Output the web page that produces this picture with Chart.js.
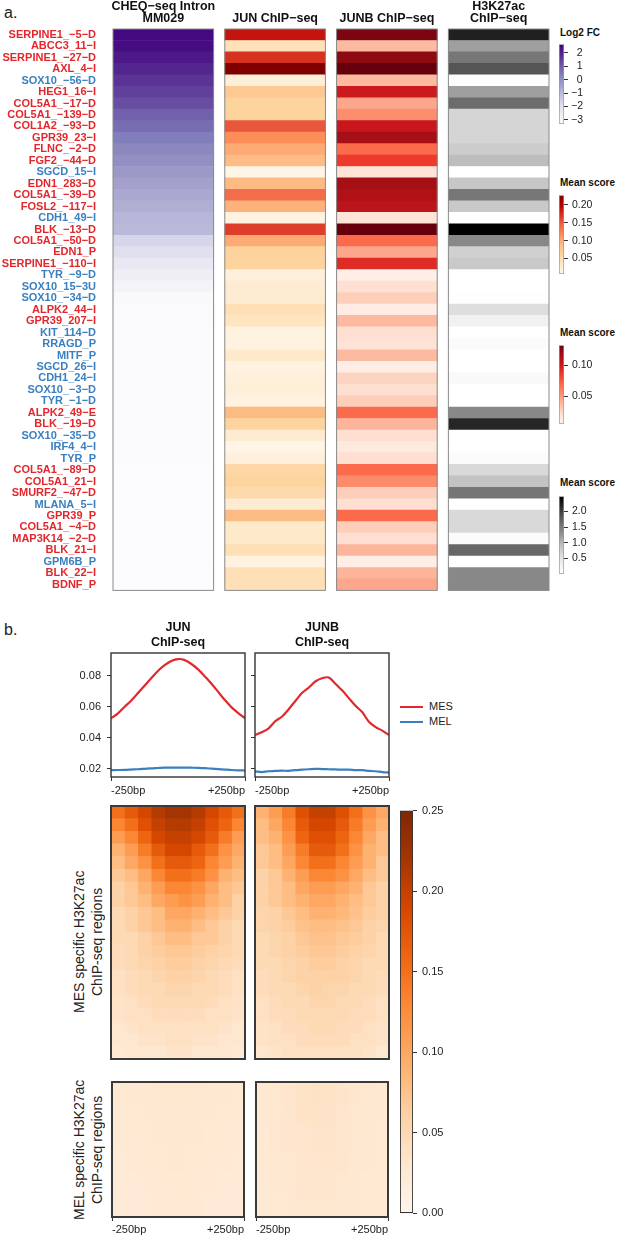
<!DOCTYPE html>
<html>
<head>
<meta charset="utf-8">
<script src="https://cdn.jsdelivr.net/npm/chart.js@4.4.0/dist/chart.umd.min.js"></script>
<style>
  body { margin: 0; background: #fff; width: 617px; height: 1237px; position: relative; overflow: hidden;
         font-family: "Liberation Sans", Arial, Helvetica, sans-serif; color: #222; }
  canvas { position: absolute; }
  .lbl { position: absolute; white-space: nowrap; }
  .cbt { position: absolute; font-size: 10px; font-weight: bold; line-height: 12px; color: #111; }
  .vt { position: absolute; writing-mode: vertical-rl; transform: rotate(180deg); text-align: center;
        font-size: 14px; line-height: 17.5px; width: 35px; white-space: nowrap; color: #222; }
  #legend div { position: absolute; left: 0; font-size: 11px; line-height: 14px; white-space: nowrap; }
  #legend span { display: inline-block; width: 23px; height: 2px; vertical-align: middle; margin-right: 6px; }
</style>
</head>
<body>
<div class="lbl" style="left:4px;top:4px;font-size:16px;line-height:18px">a.</div>
<div class="lbl" style="left:4px;top:621px;font-size:16px;line-height:18px">b.</div>

<canvas id="heatA" width="553" height="606" style="left:0;top:0"></canvas>

<div class="cbt" style="left:560px;top:27px">Log2 FC</div>
<canvas id="cbFC" width="58" height="98" style="left:559px;top:35px"></canvas>
<div class="cbt" style="left:560px;top:177px">Mean score</div>
<canvas id="cbJun" width="58" height="99" style="left:559px;top:185px"></canvas>
<div class="cbt" style="left:560px;top:327px">Mean score</div>
<canvas id="cbJunb" width="58" height="99" style="left:559px;top:335px"></canvas>
<div class="cbt" style="left:560px;top:477px">Mean score</div>
<canvas id="cbH3" width="58" height="98" style="left:559px;top:486px"></canvas>

<canvas id="profJun" width="250" height="192" style="left:0;top:612px"></canvas>
<canvas id="profJunb" width="145" height="192" style="left:250px;top:612px"></canvas>
<div id="legend" style="position:absolute;left:400px;top:699px"></div>

<div class="vt" style="left:71px;top:852px;height:180px">MES specific H3K27ac<br>ChIP-seq regions</div>
<div class="vt" style="left:71px;top:1060px;height:180px">MEL specific H3K27ac<br>ChIP-seq regions</div>
<canvas id="hmJunMes" width="136" height="275" style="left:110px;top:805px"></canvas>
<canvas id="hmJunbMes" width="136" height="275" style="left:254px;top:805px"></canvas>
<canvas id="hmJunMel" width="136" height="156" style="left:110px;top:1081px"></canvas>
<canvas id="hmJunbMel" width="136" height="156" style="left:254px;top:1081px"></canvas>
<canvas id="cbProf" width="60" height="426" style="left:400px;top:799px"></canvas>

<script>
Chart.defaults.font.family = '"Liberation Sans", Arial, Helvetica, sans-serif';
Chart.defaults.color = '#222';
Chart.defaults.animation = false;
Chart.defaults.responsive = false;
Chart.defaults.plugins.legend.display = false;
Chart.defaults.plugins.tooltip.enabled = false;

// ---------- a. region heatmap ----------
const rowLabels = [
  'SERPINE1_−5−D', 'ABCC3_11−I', 'SERPINE1_−27−D', 'AXL_4−I', 'SOX10_−56−D', 'HEG1_16−I',
  'COL5A1_−17−D', 'COL5A1_−139−D', 'COL1A2_−93−D', 'GPR39_23−I', 'FLNC_−2−D', 'FGF2_−44−D',
  'SGCD_15−I', 'EDN1_283−D', 'COL5A1_−39−D', 'FOSL2_−117−I', 'CDH1_49−I', 'BLK_−13−D',
  'COL5A1_−50−D', 'EDN1_P', 'SERPINE1_−110−I', 'TYR_−9−D', 'SOX10_15−3U', 'SOX10_−34−D',
  'ALPK2_44−I', 'GPR39_207−I', 'KIT_114−D', 'RRAGD_P', 'MITF_P', 'SGCD_26−I', 'CDH1_24−I',
  'SOX10_−3−D', 'TYR_−1−D', 'ALPK2_49−E', 'BLK_−19−D', 'SOX10_−35−D', 'IRF4_4−I', 'TYR_P',
  'COL5A1_−89−D', 'COL5A1_21−I', 'SMURF2_−47−D', 'MLANA_5−I', 'GPR39_P', 'COL5A1_−4−D',
  'MAP3K14_−2−D', 'BLK_21−I', 'GPM6B_P', 'BLK_22−I', 'BDNF_P'
];
const rowGroup = [
  'MES','MES','MES','MES','MEL','MES','MES','MES','MES','MES','MES','MES','MEL','MES','MES','MES','MEL',
  'MES','MES','MES','MES','MEL','MEL','MEL','MES','MES','MEL','MEL','MEL','MEL','MEL','MEL','MEL','MES',
  'MES','MEL','MEL','MEL','MES','MES','MES','MEL','MES','MES','MES','MES','MEL','MES','MES'
];
const cheqLog2FC = [
  2.47, 2.41, 2.17, 1.94, 1.70, 1.46, 1.22, 0.92, 0.69, 0.39, 0.15, -0.03, -0.27, -0.44, -0.62, -0.74,
  -0.92, -0.98, -1.69, -1.99, -2.35, -2.59, -2.88, -3.12, -3.20, -3.21, -3.22, -3.22, -3.23, -3.23,
  -3.24, -3.24, -3.25, -3.25, -3.25, -3.26, -3.26, -3.26, -3.27, -3.27, -3.27, -3.28, -3.28, -3.28,
  -3.28, -3.29, -3.29, -3.29, -3.29
];
const junScore = [
  0.187, 0.045, 0.171, 0.226, 0.023, 0.076, 0.063, 0.063, 0.152, 0.117,
  0.100, 0.089, 0.012, 0.090, 0.139, 0.095, 0.017, 0.165, 0.100, 0.065,
  0.063, 0.021, 0.028, 0.028, 0.047, 0.041, 0.017, 0.017, 0.034, 0.017,
  0.021, 0.023, 0.017, 0.090, 0.063, 0.028, 0.012, 0.021, 0.058, 0.063,
  0.054, 0.028, 0.090, 0.034, 0.034, 0.047, 0.017, 0.047, 0.047
];
const junbScore = [
  0.127, 0.038, 0.122, 0.132, 0.038, 0.100, 0.045, 0.055, 0.102, 0.116,
  0.069, 0.085, 0.019, 0.116, 0.112, 0.107, 0.019, 0.132, 0.069, 0.045,
  0.092, 0.011, 0.022, 0.029, 0.012, 0.038, 0.022, 0.020, 0.038, 0.011,
  0.027, 0.022, 0.029, 0.069, 0.040, 0.022, 0.015, 0.022, 0.069, 0.056,
  0.029, 0.022, 0.069, 0.029, 0.022, 0.040, 0.011, 0.040, 0.045
];
const h3k27acScore = [
  2.22, 1.17, 1.52, 1.84, 0.05, 1.17, 1.62, 0.67, 0.67, 0.67,
  0.77, 0.93, 0.00, 0.82, 1.52, 0.80, 0.00, 2.49, 1.37, 0.72,
  0.80, 0.00, 0.00, 0.03, 0.55, 0.30, 0.00, 0.08, 0.00, 0.00,
  0.12, 0.00, 0.00, 1.37, 2.17, 0.00, 0.00, 0.08, 0.62, 0.87,
  1.54, 0.00, 0.62, 0.62, 0.08, 1.67, 0.00, 1.37, 1.37
];
const columnTitles = [['CHEQ−seq Intron', 'MM029'], 'JUN ChIP−seq', 'JUNB ChIP−seq', ['H3K27ac', 'ChIP−seq']];

// colorbar ticks
const fcTicks = [2, 1, 0, -1, -2, -3];
const junTicks = [0.20, 0.15, 0.10, 0.05];
const junbTicks = [0.10, 0.05];
const h3Ticks = [2.0, 1.5, 1.0, 0.5];

// ---------- b. profiles ----------
const profileBp = [-250, -225, -200, -175, -150, -125, -100, -75, -50, -25, 0, 25, 50, 75, 100, 125, 150, 175, 200, 225, 250];
const junMes  = [0.0525, 0.0555, 0.0598, 0.0638, 0.0686, 0.0735, 0.0783, 0.0830, 0.0868, 0.0895, 0.0907, 0.0900, 0.0875, 0.0840, 0.0795, 0.0748, 0.0695, 0.0643, 0.0595, 0.0558, 0.0525];
const junMel  = [0.0190, 0.0191, 0.0192, 0.0194, 0.0196, 0.0199, 0.0202, 0.0204, 0.0206, 0.0207, 0.0207, 0.0207, 0.0206, 0.0205, 0.0203, 0.0200, 0.0197, 0.0194, 0.0191, 0.0189, 0.0188];
const junbMes = [0.0417, 0.0434, 0.0458, 0.0505, 0.0535, 0.0582, 0.0635, 0.0688, 0.0722, 0.0762, 0.0783, 0.0788, 0.0748, 0.0705, 0.0655, 0.0605, 0.0565, 0.0502, 0.0468, 0.0445, 0.0417];
const junbMel = [0.0182, 0.0178, 0.0183, 0.0185, 0.0187, 0.0186, 0.0190, 0.0193, 0.0196, 0.0199, 0.0197, 0.0196, 0.0195, 0.0193, 0.0194, 0.0190, 0.0190, 0.0186, 0.0183, 0.0178, 0.0174];
const profileTicks = [0.02, 0.04, 0.06, 0.08];
const seriesNames = ['MES', 'MEL'];

// heatmap bins (bp) and mean scores per block of regions
const binEdges = [-250, -200, -150, -100, -50, 0, 50, 100, 150, 200, 250];
const junMesGrid = [
  [0.15, 0.17, 0.19, 0.21, 0.22, 0.22, 0.21, 0.19, 0.17, 0.15],
  [0.13, 0.15, 0.18, 0.20, 0.21, 0.21, 0.20, 0.18, 0.16, 0.13],
  [0.11, 0.13, 0.16, 0.19, 0.20, 0.20, 0.19, 0.17, 0.14, 0.11],
  [0.09, 0.11, 0.14, 0.17, 0.19, 0.19, 0.17, 0.15, 0.12, 0.10],
  [0.08, 0.10, 0.12, 0.15, 0.17, 0.17, 0.16, 0.13, 0.11, 0.09],
  [0.07, 0.08, 0.10, 0.13, 0.15, 0.15, 0.14, 0.12, 0.09, 0.08],
  [0.06, 0.07, 0.09, 0.11, 0.13, 0.13, 0.12, 0.10, 0.08, 0.07],
  [0.06, 0.07, 0.08, 0.10, 0.11, 0.12, 0.11, 0.09, 0.08, 0.06],
  [0.05, 0.06, 0.07, 0.08, 0.10, 0.10, 0.09, 0.08, 0.07, 0.06],
  [0.05, 0.06, 0.07, 0.08, 0.09, 0.09, 0.08, 0.07, 0.06, 0.05],
  [0.05, 0.05, 0.06, 0.07, 0.08, 0.08, 0.07, 0.07, 0.06, 0.05],
  [0.045, 0.05, 0.06, 0.065, 0.07, 0.07, 0.065, 0.06, 0.055, 0.05],
  [0.045, 0.05, 0.055, 0.06, 0.065, 0.065, 0.06, 0.055, 0.05, 0.045],
  [0.04, 0.045, 0.05, 0.055, 0.06, 0.06, 0.055, 0.05, 0.045, 0.04],
  [0.04, 0.045, 0.05, 0.05, 0.055, 0.055, 0.05, 0.05, 0.045, 0.04],
  [0.035, 0.04, 0.045, 0.05, 0.05, 0.05, 0.05, 0.045, 0.04, 0.035],
  [0.035, 0.04, 0.04, 0.045, 0.045, 0.045, 0.045, 0.04, 0.04, 0.035],
  [0.03, 0.035, 0.04, 0.04, 0.04, 0.04, 0.04, 0.04, 0.035, 0.03],
  [0.03, 0.03, 0.035, 0.035, 0.04, 0.04, 0.035, 0.035, 0.03, 0.03],
  [0.025, 0.03, 0.03, 0.03, 0.035, 0.035, 0.03, 0.03, 0.03, 0.025]
];
const junbMesGrid = [
  [0.09, 0.11, 0.14, 0.18, 0.20, 0.20, 0.18, 0.15, 0.12, 0.10],
  [0.08, 0.10, 0.13, 0.17, 0.19, 0.19, 0.17, 0.14, 0.11, 0.09],
  [0.08, 0.09, 0.12, 0.16, 0.18, 0.18, 0.16, 0.13, 0.10, 0.08],
  [0.07, 0.08, 0.11, 0.14, 0.17, 0.17, 0.15, 0.12, 0.09, 0.08],
  [0.07, 0.08, 0.10, 0.13, 0.15, 0.15, 0.13, 0.11, 0.09, 0.07],
  [0.06, 0.07, 0.09, 0.11, 0.13, 0.13, 0.12, 0.10, 0.08, 0.07],
  [0.06, 0.07, 0.08, 0.10, 0.11, 0.11, 0.10, 0.09, 0.07, 0.06],
  [0.06, 0.07, 0.08, 0.09, 0.10, 0.10, 0.09, 0.08, 0.07, 0.06],
  [0.055, 0.06, 0.07, 0.08, 0.09, 0.09, 0.085, 0.075, 0.065, 0.06],
  [0.055, 0.06, 0.065, 0.075, 0.08, 0.08, 0.075, 0.07, 0.06, 0.055],
  [0.05, 0.055, 0.06, 0.07, 0.075, 0.075, 0.07, 0.065, 0.06, 0.05],
  [0.05, 0.055, 0.06, 0.065, 0.07, 0.07, 0.065, 0.06, 0.055, 0.05],
  [0.05, 0.05, 0.055, 0.06, 0.065, 0.065, 0.06, 0.055, 0.05, 0.05],
  [0.045, 0.05, 0.055, 0.06, 0.06, 0.06, 0.06, 0.055, 0.05, 0.045],
  [0.045, 0.05, 0.05, 0.055, 0.06, 0.055, 0.055, 0.05, 0.05, 0.045],
  [0.04, 0.045, 0.05, 0.05, 0.055, 0.055, 0.05, 0.05, 0.045, 0.04],
  [0.04, 0.045, 0.045, 0.05, 0.05, 0.05, 0.05, 0.045, 0.045, 0.04],
  [0.035, 0.04, 0.045, 0.045, 0.05, 0.05, 0.045, 0.045, 0.04, 0.035],
  [0.035, 0.04, 0.04, 0.045, 0.045, 0.045, 0.045, 0.04, 0.04, 0.035],
  [0.03, 0.035, 0.04, 0.04, 0.04, 0.04, 0.04, 0.04, 0.035, 0.03]
];
const junMelGrid = [
  [0.026, 0.027, 0.028, 0.029, 0.030, 0.030, 0.029, 0.028, 0.027, 0.026],
  [0.025, 0.026, 0.027, 0.028, 0.029, 0.029, 0.028, 0.027, 0.026, 0.025],
  [0.024, 0.025, 0.026, 0.027, 0.028, 0.028, 0.027, 0.026, 0.025, 0.024],
  [0.023, 0.024, 0.025, 0.026, 0.027, 0.027, 0.026, 0.025, 0.024, 0.023],
  [0.023, 0.023, 0.024, 0.025, 0.026, 0.026, 0.025, 0.024, 0.023, 0.023],
  [0.022, 0.023, 0.023, 0.024, 0.025, 0.025, 0.024, 0.023, 0.023, 0.022]
];
const junbMelGrid = [
  [0.028, 0.030, 0.033, 0.036, 0.037, 0.036, 0.034, 0.031, 0.029, 0.027],
  [0.027, 0.030, 0.032, 0.035, 0.036, 0.035, 0.033, 0.030, 0.028, 0.027],
  [0.026, 0.029, 0.031, 0.033, 0.034, 0.034, 0.032, 0.030, 0.028, 0.026],
  [0.026, 0.028, 0.030, 0.032, 0.033, 0.033, 0.031, 0.029, 0.027, 0.026],
  [0.025, 0.027, 0.029, 0.031, 0.032, 0.032, 0.030, 0.028, 0.026, 0.025],
  [0.024, 0.026, 0.028, 0.029, 0.030, 0.030, 0.029, 0.027, 0.026, 0.024]
];
const profTicks = [0, 0.05, 0.10, 0.15, 0.20, 0.25];

// ---------- colours ----------
const RED_LBL = '#e2272c', BLUE_LBL = '#3a80c0';
const MES_COL = '#e2282c', MEL_COL = '#3b7fbf';
const PURPLES = ['#fcfbfd', '#efedf5', '#dadaeb', '#bcbddc', '#9e9ac8', '#807dba', '#6a51a3', '#54278f', '#3f007d'];
const ORRD = ['#fff7ec', '#fee8c8', '#fdd49e', '#fdbb84', '#fc8d59', '#ef6548', '#d7301f', '#b30000', '#7f0000'];
const REDS = ['#fff5f0', '#fee0d2', '#fcbba1', '#fc9272', '#fb6a4a', '#ef3b2c', '#cb181d', '#a50f15', '#67000d'];
const GREYS = ['#ffffff', '#f0f0f0', '#d9d9d9', '#bdbdbd', '#969696', '#737373', '#525252', '#252525', '#000000'];
const ORANGES = ['#fff5eb', '#fee6ce', '#fdd0a2', '#fdae6b', '#fd8d3c', '#f16913', '#d94801', '#a63603', '#7f2704'];

function hexRgb(h) { return [1, 3, 5].map(i => parseInt(h.slice(i, i + 2), 16)); }
function colorAt(stops, t) {
  t = Math.max(0, Math.min(1, t));
  const p = t * (stops.length - 1);
  const i = Math.min(Math.floor(p), stops.length - 2);
  const f = p - i;
  const a = hexRgb(stops[i]), b = hexRgb(stops[i + 1]);
  return 'rgb(' + a.map((c, k) => Math.round(c + (b[k] - c) * f)).join(',') + ')';
}
function scaled(stops, min, max) { return v => colorAt(stops, (v - min) / (max - min)); }

const frame = (color, width) => ({
  id: 'frame',
  afterDatasetsDraw(chart) {
    const { ctx, chartArea: a } = chart;
    ctx.save();
    ctx.strokeStyle = color;
    ctx.lineWidth = width;
    ctx.strokeRect(a.left, a.top, a.right - a.left, a.bottom - a.top);
    ctx.restore();
  }
});

// ---------- a. heatmap ----------
const COLW = 0.9;
const columns = [
  { values: cheqLog2FC, color: scaled(PURPLES, -3.29, 2.65) },
  { values: junScore, color: scaled(ORRD, 0.008, 0.226) },
  { values: junbScore, color: scaled(REDS, 0.006, 0.132) },
  { values: h3k27acScore, color: scaled(GREYS, 0, 2.49) }
];

const columnOutline = {
  id: 'columnOutline',
  afterDatasetsDraw(chart) {
    const { ctx, chartArea: a, scales: { x } } = chart;
    ctx.save();
    ctx.strokeStyle = '#8a8a8a';
    ctx.lineWidth = 1;
    columns.forEach((c, i) => {
      const l = x.getPixelForValue(i), r = x.getPixelForValue(i + COLW);
      ctx.strokeRect(l, a.top, r - l, a.bottom - a.top);
    });
    ctx.restore();
  }
};

new Chart(document.getElementById('heatA'), {
  type: 'bar',
  data: {
    labels: rowLabels,
    datasets: columns.map((c, i) => ({
      data: c.values.map(() => [i, i + COLW]),
      backgroundColor: c.values.map(c.color),
      borderWidth: 0,
      grouped: false,
      categoryPercentage: 1,
      barPercentage: 1
    }))
  },
  options: {
    indexAxis: 'y',
    layout: { padding: { left: 0, right: 4, top: 0, bottom: 6 } },
    scales: {
      x: {
        type: 'linear', position: 'top', min: 0, max: 3.9,
        grid: { display: false }, border: { display: false },
        afterBuildTicks: s => { s.ticks = columns.map((c, i) => ({ value: i + COLW / 2 })); },
        afterFit: s => { s.height = 29; },
        ticks: {
          callback: (v, i) => columnTitles[i],
          font: { size: 12.5, weight: 'bold', lineHeight: 0.95 },
          color: '#111', padding: -3.5, maxRotation: 0, autoSkip: false
        }
      },
      y: {
        grid: { display: false }, border: { display: false },
        afterFit: s => { s.width = 113; },
        ticks: {
          autoSkip: false, padding: 9,
          font: { size: 11, weight: 'bold' },
          color: c => rowGroup[c.index] === 'MES' ? RED_LBL : BLUE_LBL
        }
      }
    }
  },
  plugins: [columnOutline]
});

// ---------- colour bars ----------
function makeColorbar(id, opt) {
  const canvas = document.getElementById(id);
  return new Chart(canvas, {
    type: 'bar',
    data: {
      labels: [''],
      datasets: [{
        data: [[opt.min, opt.max]],
        backgroundColor: c => {
          const a = c.chart.chartArea;
          if (!a) return 'transparent';
          const g = c.chart.ctx.createLinearGradient(0, a.bottom, 0, a.top);
          opt.stops.forEach((s, k) => g.addColorStop(k / (opt.stops.length - 1), s));
          return g;
        },
        borderColor: opt.border, borderWidth: opt.borderWidth, borderSkipped: false,
        categoryPercentage: 1, barPercentage: 1
      }]
    },
    options: {
      layout: { padding: { top: 8, bottom: 8, left: 0, right: 0 } },
      scales: {
        x: { display: false },
        y: {
          position: 'right', min: opt.min, max: opt.max,
          afterBuildTicks: s => { s.ticks = opt.ticks.map(v => ({ value: v })); },
          afterFit: s => { s.width = canvas.width - opt.barW; },
          grid: { drawOnChartArea: false, tickLength: 4, color: '#333' },
          border: { display: false },
          ticks: { callback: opt.fmt, font: { size: opt.fontSize }, color: '#222', padding: opt.pad }
        }
      }
    }
  });
}
const fmtFC = v => (v < 0 ? '−' + Math.abs(v) : '  ' + v);
makeColorbar('cbFC', { stops: PURPLES, min: -3.29, max: 2.65, ticks: fcTicks, fmt: fmtFC, barW: 5, border: '#999', borderWidth: 1, fontSize: 10.5, pad: 3 });
makeColorbar('cbJun', { stops: ORRD, min: 0.008, max: 0.226, ticks: junTicks, fmt: v => v.toFixed(2), barW: 5, border: '#999', borderWidth: 1, fontSize: 10.5, pad: 4 });
makeColorbar('cbJunb', { stops: REDS, min: 0.006, max: 0.132, ticks: junbTicks, fmt: v => v.toFixed(2), barW: 5, border: '#999', borderWidth: 1, fontSize: 10.5, pad: 4 });
makeColorbar('cbH3', { stops: GREYS, min: 0, max: 2.49, ticks: h3Ticks, fmt: v => v.toFixed(1), barW: 5, border: '#999', borderWidth: 1, fontSize: 10.5, pad: 4 });
makeColorbar('cbProf', { stops: ORANGES, min: 0, max: 0.25, ticks: profTicks, fmt: v => v.toFixed(2), barW: 13, border: '#333', borderWidth: 1.2, fontSize: 11, pad: 5 });

// ---------- b. profile plots ----------
const bpLabel = v => (v < 0 ? '-250bp' : '+250bp');
function makeProfile(id, title, mes, mel, showY, yWidth, padRight) {
  return new Chart(document.getElementById(id), {
    type: 'line',
    data: {
      datasets: [mes, mel].map((vals, k) => ({
        label: seriesNames[k],
        data: profileBp.map((x, i) => ({ x, y: vals[i] })),
        borderColor: k === 0 ? MES_COL : MEL_COL,
        borderWidth: 2.2, pointRadius: 0, tension: 0.3
      }))
    },
    options: {
      layout: { padding: { left: 0, right: padRight, top: 0, bottom: 0 } },
      plugins: {
        title: {
          display: true, text: title, fullSize: false, color: '#111',
          font: { size: 12.5, weight: 'bold', lineHeight: 1.2 },
          padding: { top: 8.5, bottom: 2.5 }
        }
      },
      scales: {
        x: {
          type: 'linear', min: -250, max: 250,
          afterBuildTicks: s => { s.ticks = [{ value: -250 }, { value: 250 }]; },
          afterFit: s => { s.height = 27; },
          grid: { drawOnChartArea: false, tickLength: 4, color: '#333' },
          border: { display: false },
          ticks: { callback: bpLabel, align: 'inner', maxRotation: 0, font: { size: 11 }, color: '#222', padding: 3 }
        },
        y: {
          min: 0.0146, max: 0.0946,
          afterBuildTicks: s => { s.ticks = profileTicks.map(v => ({ value: v })); },
          afterFit: s => { s.width = yWidth; },
          grid: { drawOnChartArea: false, tickLength: 4, color: '#333' },
          border: { display: false },
          ticks: { display: showY, callback: v => v.toFixed(2), font: { size: 11 }, color: '#222', padding: 6 }
        }
      }
    },
    plugins: [frame('#333', 1.4)]
  });
}
makeProfile('profJun', ['JUN', 'ChIP-seq'], junMes, junMel, true, 111, 5);
makeProfile('profJunb', ['JUNB', 'ChIP-seq'], junbMes, junbMel, false, 5, 6);

document.getElementById('legend').innerHTML = seriesNames.map((n, k) =>
  '<div style="top:' + (k * 15) + 'px"><span style="background:' + (k === 0 ? MES_COL : MEL_COL) + '"></span>' + n + '</div>'
).join('');

// ---------- b. region heatmaps ----------
function makeHeatmap(id, grid, showX) {
  const datasets = binEdges.slice(0, -1).map((x0, j) => ({
    data: grid.map(() => [x0, binEdges[j + 1]]),
    backgroundColor: grid.map(r => colorAt(ORANGES, r[j] / 0.25)),
    borderWidth: 0, grouped: false, categoryPercentage: 1, barPercentage: 1
  }));
  return new Chart(document.getElementById(id), {
    type: 'bar',
    data: { labels: grid.map((r, i) => String(i + 1)), datasets },
    options: {
      indexAxis: 'y',
      layout: { padding: { top: 1, left: 1, right: 1, bottom: showX ? 0 : 1 } },
      scales: {
        y: { display: false },
        x: {
          type: 'linear', min: -250, max: 250, display: showX,
          afterBuildTicks: s => { s.ticks = [{ value: -250 }, { value: 250 }]; },
          afterFit: s => { s.height = 20; },
          grid: { drawOnChartArea: false, tickLength: 4, color: '#333' },
          border: { display: false },
          ticks: { callback: bpLabel, align: 'inner', maxRotation: 0, font: { size: 11 }, color: '#222', padding: 2 }
        }
      }
    },
    plugins: [frame('#3a3a3a', 2)]
  });
}
makeHeatmap('hmJunMes', junMesGrid, false);
makeHeatmap('hmJunbMes', junbMesGrid, false);
makeHeatmap('hmJunMel', junMelGrid, true);
makeHeatmap('hmJunbMel', junbMelGrid, true);
</script>
</body>
</html>
